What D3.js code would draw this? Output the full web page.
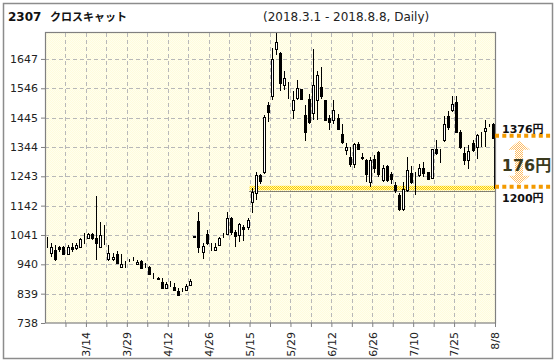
<!DOCTYPE html>
<html><head><meta charset="utf-8">
<script src="https://cdn.jsdelivr.net/npm/d3@7/dist/d3.min.js"></script>
<style>body{margin:0;background:#fff}svg{display:block}</style>
</head><body><svg id="c" width="557" height="364"></svg>
<script>
// ---------- data ----------
const dates = ["3/1","3/2","3/5","3/6","3/7","3/8","3/9","3/12","3/13","3/14","3/15","3/16","3/19","3/20","3/22","3/23","3/26","3/27","3/28","3/29","3/30",
"4/2","4/3","4/4","4/5","4/6","4/9","4/10","4/11","4/12","4/13","4/16","4/17","4/18","4/19","4/20","4/23","4/24","4/25","4/26","4/27",
"5/1","5/2","5/7","5/8","5/9","5/10","5/11","5/14","5/15","5/16","5/17","5/18","5/21","5/22","5/23","5/24","5/25","5/28","5/29","5/30","5/31",
"6/1","6/4","6/5","6/6","6/7","6/8","6/11","6/12","6/13","6/14","6/15","6/18","6/19","6/20","6/21","6/22","6/25","6/26","6/27","6/28","6/29",
"7/2","7/3","7/4","7/5","7/6","7/9","7/10","7/11","7/12","7/13","7/17","7/18","7/19","7/20","7/23","7/24","7/25","7/26","7/27","7/30","7/31",
"8/1","8/2","8/3","8/6","8/7","8/8"];
const open  = [1012,980,989,1000,998,976,1000,995,1000,1030,1029,1046,1029,1000,1032,959,957,977,932,946,954,958,940,950,937,931,900,892,878,857,877,861,848,853,853,870,
1035,1088,983,1044,1000,991,1006,1037,1046,1100,1052,1042,1069,1067,1155,1184,1247,1258,1487,1521,1680,1667,1556,1550,1470,1514,1542,1455,1510,1461,1507,1550,1504,1445,1436,1444,1387,1332,1310,1284,1353,1307,1298,
1224,1304,1327,1229,1277,1250,1212,1178,1130,1195,1255,1230,1247,1273,1258,1238,1338,1323,1367,1450,1470,1498,1395,1323,1298,1358,1344,1380,1399,1420,1422];
const high  = [1035,1012,1006,1003,1003,1006,1012,1012,1030,1047,1048,1048,1174,1085,1075,1006,980,987,977,952,960,964,955,955,943,935,909,895,892,880,884,874,857,860,872,888,
1038,1120,1012,1058,1012,1012,1035,1049,1120,1103,1058,1083,1075,1101,1201,1258,1252,1453,1499,1684,1738,1670,1607,1568,1536,1575,1545,1487,1527,1680,1607,1619,1504,1453,1507,1458,1424,1358,1344,1358,1361,1323,1304,
1310,1318,1330,1281,1281,1258,1224,1184,1222,1310,1277,1258,1287,1293,1258,1338,1369,1338,1450,1468,1519,1519,1401,1344,1350,1367,1390,1395,1438,1424,1428];
const low   = [995,966,952,983,971,971,983,990,998,1010,1027,1025,955,1000,1006,952,950,943,926,929,948,952,938,927,926,904,888,885,854,854,863,849,831,846,850,868,
1033,980,960,1006,985,988,1003,1029,1044,1040,1000,1018,1021,1058,1117,1161,1218,1252,1430,1504,1660,1536,1539,1510,1441,1504,1505,1364,1424,1436,1436,1510,1436,1401,1424,1401,1355,1315,1275,1270,1332,1298,1224,
1207,1255,1241,1224,1224,1218,1184,1124,1124,1189,1218,1178,1241,1241,1229,1235,1315,1290,1361,1401,1465,1392,1338,1281,1267,1327,1304,1344,1344,1412,1376];
const close = [1014,1000,960,993,974,1000,992,1006,1026,1032,1046,1032,1014,1040,1030,980,964,945,940,944,955,959,948,929,936,906,899,891,857,872,876,853,834,852,865,884,
1036,998,1002,1012,1001,1000,1029,1038,1101,1052,1039,1078,1060,1094,1189,1247,1226,1447,1464,1647,1706,1563,1582,1551,1504,1548,1510,1395,1430,1556,1590,1518,1438,1430,1470,1407,1361,1343,1284,1355,1337,1308,1250,
1298,1270,1250,1270,1229,1233,1195,1132,1200,1266,1224,1231,1270,1255,1232,1338,1323,1324,1422,1413,1493,1395,1344,1298,1330,1333,1384,1381,1410,1421,1376];

const yTicks = [738, 839, 940, 1041, 1142, 1243, 1344, 1445, 1546, 1647];
const yDomain = [738, 1738];
const xTickLabels = ["3/14","3/29","4/12","4/26","5/15","5/29","6/12","6/26","7/10","7/25","8/8"];
const refPrice = 1200, refStart = "5/16";
const lastPrice = 1376;
const titleCode = "2307", titleName = "クロスキャット";
const subtitle = "(2018.3.1 - 2018.8.8, Daily)";

// ---------- layout ----------
const plot = {l:45, r:495, t:32.5, b:323};
const svg = d3.select('#c');
const defs = svg.append('defs');
function checker(id, c1, c2){
  const p = defs.append('pattern').attr('id',id).attr('width',2).attr('height',2).attr('patternUnits','userSpaceOnUse');
  p.append('rect').attr('width',2).attr('height',2).attr('fill',c2);
  p.append('rect').attr('width',1).attr('height',1).attr('fill',c1);
  p.append('rect').attr('x',1).attr('y',1).attr('width',1).attr('height',1).attr('fill',c1);
}
checker('bg','#fffbdc','#ffffee');
checker('band','#ffd000','#fff6b0');
checker('arrowp','#ffbe66','#ffffff');

const n = dates.length;
const x = d3.scaleLinear().domain([-0.5, n-0.5]).range([plot.l, plot.r]);
const y = d3.scaleLinear().domain(yDomain).range([plot.b, plot.t]);
const font = "'DejaVu Sans','Noto Sans CJK JP',sans-serif";

// outer frame
svg.append('rect').attr('x',3.5).attr('y',3.5).attr('width',549).attr('height',355)
  .attr('fill','#fff').attr('stroke','#8c8c8c').attr('stroke-width',1.5);

// titles
const t = svg.append('text').attr('x',8).attr('y',21).attr('font-family',font)
  .attr('font-size',12).attr('font-weight','bold').attr('fill','#111');
t.append('tspan').text(titleCode);
t.append('tspan').attr('x',50).attr('font-size',11).text(titleName);
svg.append('text').attr('x',263).attr('y',21).attr('font-family',font).attr('font-size',12)
  .attr('fill','#222').text(subtitle);

// plot background
svg.append('rect').attr('x',plot.l).attr('y',plot.t).attr('width',plot.r-plot.l).attr('height',plot.b-plot.t)
  .attr('fill','url(#bg)');

// grid
const tickIdx = d3.range(4, n, 5);
const g = svg.append('g').attr('stroke','#b8b8b8').attr('stroke-dasharray','4,3').attr('shape-rendering','crispEdges');
g.selectAll('.h').data(yTicks.slice(1)).join('line')
  .attr('x1',plot.l).attr('x2',plot.r).attr('y1',d=>Math.round(y(d))+0.5).attr('y2',d=>Math.round(y(d))+0.5);
g.selectAll('.v').data(tickIdx.filter(i=>i<n-1)).join('line')
  .attr('x1',i=>Math.round(x(i+0.5))+0.5).attr('x2',i=>Math.round(x(i+0.5))+0.5).attr('y1',plot.t).attr('y2',plot.b);

// reference band
const ry = y(refPrice);
const bx = x(dates.indexOf(refStart)-0.5);
svg.append('rect').attr('x',bx).attr('y',ry-3).attr('width',plot.r-bx).attr('height',4.5).attr('fill','url(#band)');
svg.append('line').attr('x1',bx).attr('x2',plot.r).attr('y1',Math.round(ry+2)+0.5).attr('y2',Math.round(ry+2)+0.5)
  .attr('stroke','#000').attr('stroke-dasharray','1,1');

// candles
const idx = d3.range(n);
const cg = svg.append('g').attr('shape-rendering','crispEdges');
cg.selectAll('.w').data(idx).join('line')
  .attr('x1',i=>Math.round(x(i))+0.5).attr('x2',i=>Math.round(x(i))+0.5)
  .attr('y1',i=>y(high[i])).attr('y2',i=>y(low[i])).attr('stroke','#000');
cg.selectAll('.b').data(idx).join('rect')
  .attr('x',i=>Math.round(x(i))-0.5)
  .attr('y',i=>Math.round(y(Math.max(open[i],close[i])))+0.5)
  .attr('width',2)
  .attr('height',i=>Math.max(0, Math.round(y(Math.min(open[i],close[i]))) - Math.round(y(Math.max(open[i],close[i])))))
  .attr('fill',i=>close[i] < open[i] ? '#000' : '#fff')
  .attr('stroke','#000');

// vertical difference line at last candle
const lx = Math.round(x(n-1))+1.5;
svg.append('line').attr('x1',lx).attr('x2',lx).attr('y1',y(lastPrice)).attr('y2',ry).attr('stroke','#000');

// axes
const xa = svg.append('g').attr('transform',`translate(0,${plot.b})`)
  .call(d3.axisBottom(x).tickValues(tickIdx.map(i=>i+0.5)).tickSize(4)
    .tickFormat(v=>{const d=dates[Math.round(v-0.5)]; return xTickLabels.includes(d)?d:'';}));
xa.select('.domain').remove();
xa.selectAll('line').attr('stroke','#808080');
xa.selectAll('text').attr('transform','rotate(-90)').attr('x',-9).attr('y',0).attr('dy','0.35em')
  .style('text-anchor','end').attr('font-family',font).attr('font-size',11).attr('fill','#222');
const ya = svg.append('g').attr('transform',`translate(${plot.l},0)`)
  .call(d3.axisLeft(y).tickValues(yTicks).tickSize(4).tickPadding(3).tickFormat(d3.format('d')));
ya.select('.domain').remove();
ya.selectAll('line').attr('stroke','#808080');
ya.selectAll('text').attr('font-family',font).attr('font-size',11).attr('fill','#222');

// plot border
svg.append('rect').attr('x',plot.l+0.5).attr('y',plot.t).attr('width',plot.r-plot.l).attr('height',plot.b-plot.t)
  .attr('fill','none').attr('stroke','#808080').attr('stroke-width',1.2);

// annotation
const ly = y(lastPrice);
[ly-2, ry-2].forEach(v=>{
  svg.append('line').attr('x1',plot.r).attr('x2',551).attr('y1',v).attr('y2',v)
    .attr('stroke','#f39a00').attr('stroke-width',4).attr('stroke-dasharray','4,3.3');
});
const ax = 519, at = ly+3, ab = ry-4;
svg.append('path').attr('fill','url(#arrowp)')
  .attr('d',`M${ax},${at} L${ax+11},${at+9} L${ax+4},${at+9} L${ax+4},${ab-9} L${ax+11},${ab-9} L${ax},${ab} L${ax-11},${ab-9} L${ax-4},${ab-9} L${ax-4},${at+9} L${ax-11},${at+9} Z`);
svg.append('text').attr('x',502).attr('y',ly-4.5).attr('font-family',font).attr('font-size',11)
  .attr('font-weight','bold').attr('fill','#111').text(lastPrice + '円');
svg.append('text').attr('x',502).attr('y',ry+13.5).attr('font-family',font).attr('font-size',11)
  .attr('font-weight','bold').attr('fill','#111').text(refPrice + '円');
svg.append('text').attr('x',526.5).attr('y',(ly+ry)/2+7.5).attr('text-anchor','middle').attr('font-family',font)
  .attr('font-size',16).attr('font-weight','bold').attr('fill','#3a3a1e').text((lastPrice-refPrice) + '円');
</script></body></html>
